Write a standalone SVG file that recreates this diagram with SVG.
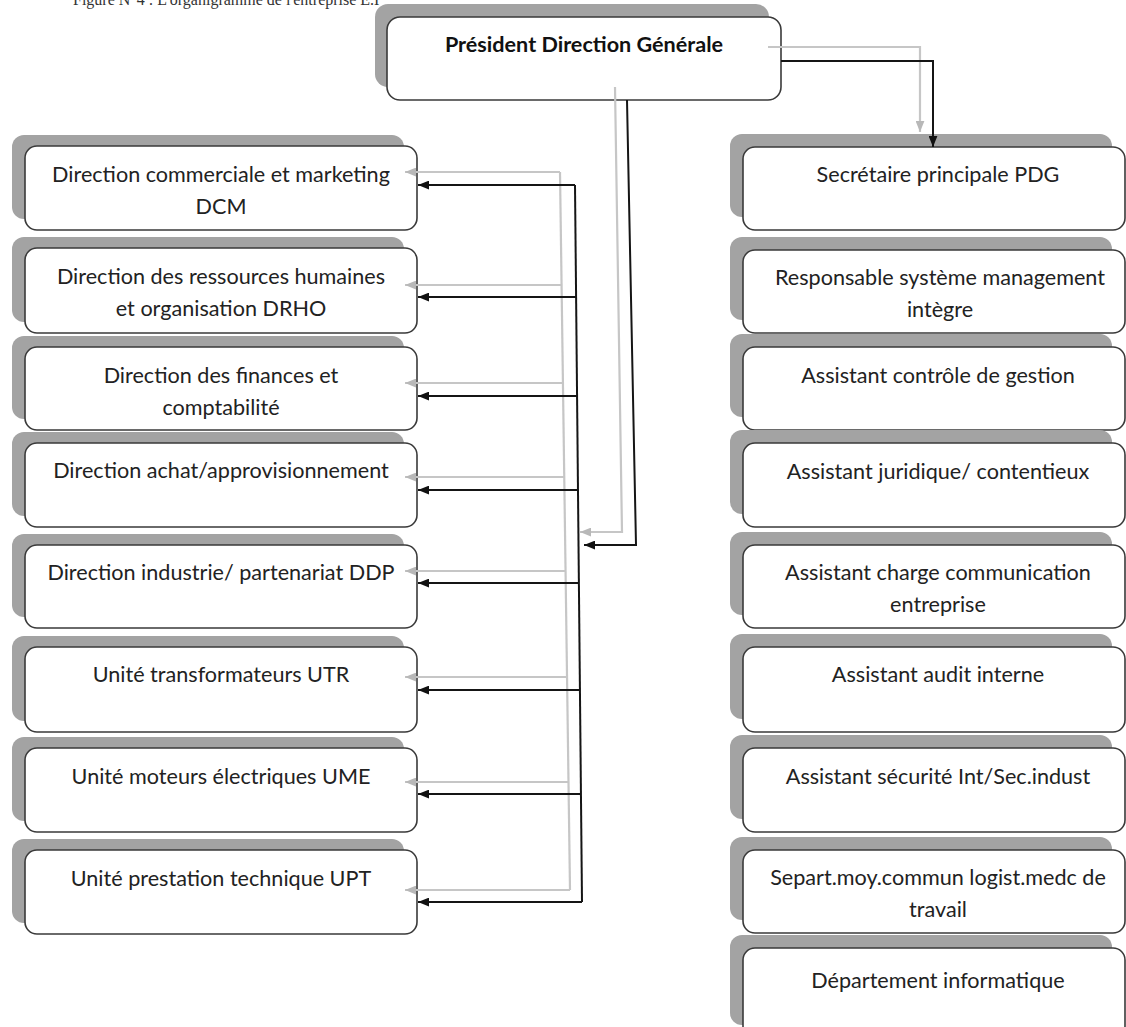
<svg xmlns="http://www.w3.org/2000/svg" width="1126" height="1027" viewBox="0 0 1126 1027">
<style>
.sh{fill:#a3a3a3}
.bx{fill:#fff;stroke:#3a3a3a;stroke-width:1.6}
.t{font-family:Lato,"Open Sans","Liberation Sans",sans-serif;font-size:21.6px;fill:#222;text-anchor:middle}
.tb{font-family:Lato,"Open Sans","Liberation Sans",sans-serif;font-size:21.6px;font-weight:bold;fill:#111;text-anchor:middle}
.k{fill:none;stroke:#151515;stroke-width:2}
.g{fill:none;stroke:#c6c6c6;stroke-width:2.2}
.ti{font-family:"Liberation Serif",serif;font-size:16px;fill:#333}
</style>
<defs>
<marker id="ak" viewBox="0 0 10 8" refX="10" refY="4" markerWidth="11" markerHeight="9" markerUnits="userSpaceOnUse" orient="auto"><path d="M0,0L10,4L0,8z" fill="#111"/></marker>
<marker id="ag" viewBox="0 0 10 8" refX="10" refY="4" markerWidth="11" markerHeight="9" markerUnits="userSpaceOnUse" orient="auto"><path d="M0,0L10,4L0,8z" fill="#b8b8b8"/></marker>
</defs>
<rect width="1126" height="1027" fill="#fff"/>
<text class="ti" x="73" y="5">Figure N°4 : L'organigramme de l'entreprise E.I</text>

<g id="n-pdg"><rect class="sh" x="375" y="4" width="394" height="83" rx="13"/><rect class="bx" x="387" y="17" width="394" height="83" rx="13"/><text class="tb" x="584" y="52">Président Direction Générale</text></g>

<g id="n-dcm"><rect class="sh" x="12" y="135" width="392" height="84" rx="12"/><rect class="bx" x="25" y="146" width="392" height="84" rx="12"/><text class="t" x="221" y="182">Direction commerciale et marketing</text><text class="t" x="221" y="214">DCM</text></g>
<g id="n-drho"><rect class="sh" x="12" y="237" width="392" height="85" rx="12"/><rect class="bx" x="25" y="248" width="392" height="85" rx="12"/><text class="t" x="221" y="284">Direction des ressources humaines</text><text class="t" x="221" y="316">et organisation DRHO</text></g>
<g id="n-dfc"><rect class="sh" x="12" y="336" width="392" height="83" rx="12"/><rect class="bx" x="25" y="347" width="392" height="83" rx="12"/><text class="t" x="221" y="383">Direction des finances et</text><text class="t" x="221" y="415">comptabilité</text></g>
<g id="n-dap"><rect class="sh" x="12" y="432" width="392" height="84" rx="12"/><rect class="bx" x="25" y="443" width="392" height="84" rx="12"/><text class="t" x="221" y="478">Direction achat/approvisionnement</text></g>
<g id="n-ddp"><rect class="sh" x="12" y="534" width="392" height="83" rx="12"/><rect class="bx" x="25" y="545" width="392" height="83" rx="12"/><text class="t" x="221" y="580">Direction industrie/ partenariat DDP</text></g>
<g id="n-utr"><rect class="sh" x="12" y="636" width="392" height="85" rx="12"/><rect class="bx" x="25" y="647" width="392" height="85" rx="12"/><text class="t" x="221" y="682">Unité transformateurs UTR</text></g>
<g id="n-ume"><rect class="sh" x="12" y="737" width="392" height="84" rx="12"/><rect class="bx" x="25" y="748" width="392" height="84" rx="12"/><text class="t" x="221" y="784">Unité moteurs électriques UME</text></g>
<g id="n-upt"><rect class="sh" x="12" y="839" width="392" height="84" rx="12"/><rect class="bx" x="25" y="850" width="392" height="84" rx="12"/><text class="t" x="221" y="886">Unité prestation technique UPT</text></g>

<g id="n-sec"><rect class="sh" x="730" y="134" width="382" height="83" rx="12"/><rect class="bx" x="743" y="147" width="382" height="83" rx="12"/><text class="t" x="938" y="182">Secrétaire principale PDG</text></g>
<g id="n-rsm"><rect class="sh" x="730" y="237" width="382" height="83" rx="12"/><rect class="bx" x="743" y="250" width="382" height="83" rx="12"/><text class="t" x="940" y="285">Responsable système management</text><text class="t" x="940" y="317">intègre</text></g>
<g id="n-acg"><rect class="sh" x="730" y="334" width="382" height="83" rx="12"/><rect class="bx" x="743" y="347" width="382" height="83" rx="12"/><text class="t" x="938" y="383">Assistant contrôle de gestion</text></g>
<g id="n-ajc"><rect class="sh" x="730" y="430" width="382" height="84" rx="12"/><rect class="bx" x="743" y="443" width="382" height="84" rx="12"/><text class="t" x="938" y="479">Assistant juridique/ contentieux</text></g>
<g id="n-acc"><rect class="sh" x="730" y="532" width="382" height="83" rx="12"/><rect class="bx" x="743" y="545" width="382" height="83" rx="12"/><text class="t" x="938" y="580">Assistant charge communication</text><text class="t" x="938" y="612">entreprise</text></g>
<g id="n-aai"><rect class="sh" x="730" y="634" width="382" height="85" rx="12"/><rect class="bx" x="743" y="647" width="382" height="85" rx="12"/><text class="t" x="938" y="682">Assistant audit interne</text></g>
<g id="n-asi"><rect class="sh" x="730" y="735" width="382" height="84" rx="12"/><rect class="bx" x="743" y="748" width="382" height="84" rx="12"/><text class="t" x="938" y="784">Assistant sécurité Int/Sec.indust</text></g>
<g id="n-sep"><rect class="sh" x="730" y="837" width="382" height="83" rx="12"/><rect class="bx" x="743" y="850" width="382" height="83" rx="12"/><text class="t" x="938" y="885">Separt.moy.commun logist.medc de</text><text class="t" x="938" y="917">travail</text></g>
<g id="n-dpi"><rect class="sh" x="730" y="935" width="382" height="90" rx="12"/><rect class="bx" x="743" y="948" width="382" height="90" rx="12"/><text class="t" x="938" y="988">Département informatique</text></g>

<g id="connectors">
<path class="g" d="M768,47H920V132" marker-end="url(#ag)"/>
<path class="g" d="M615,87L622,532H580" marker-end="url(#ag)"/>
<path class="g" d="M560,172L570,890"/>
<path class="g" d="M560,172H405" marker-end="url(#ag)"/>
<path class="g" d="M562,285H405" marker-end="url(#ag)"/>
<path class="g" d="M563,383H405" marker-end="url(#ag)"/>
<path class="g" d="M564,477H405" marker-end="url(#ag)"/>
<path class="g" d="M566,571H405" marker-end="url(#ag)"/>
<path class="g" d="M567,677H405" marker-end="url(#ag)"/>
<path class="g" d="M569,782H405" marker-end="url(#ag)"/>
<path class="g" d="M570,890H405" marker-end="url(#ag)"/>

<path class="k" d="M781,61H933V147" marker-end="url(#ak)"/>
<path class="k" d="M627,100L636,545H584" marker-end="url(#ak)"/>
<path class="k" d="M575,185L582,902"/>
<path class="k" d="M575,185H418" marker-end="url(#ak)"/>
<path class="k" d="M576,297H418" marker-end="url(#ak)"/>
<path class="k" d="M578,396H418" marker-end="url(#ak)"/>
<path class="k" d="M578,490H418" marker-end="url(#ak)"/>
<path class="k" d="M579,583H418" marker-end="url(#ak)"/>
<path class="k" d="M580,690H418" marker-end="url(#ak)"/>
<path class="k" d="M581,794H418" marker-end="url(#ak)"/>
<path class="k" d="M582,902H418" marker-end="url(#ak)"/>
</g>
</svg>
